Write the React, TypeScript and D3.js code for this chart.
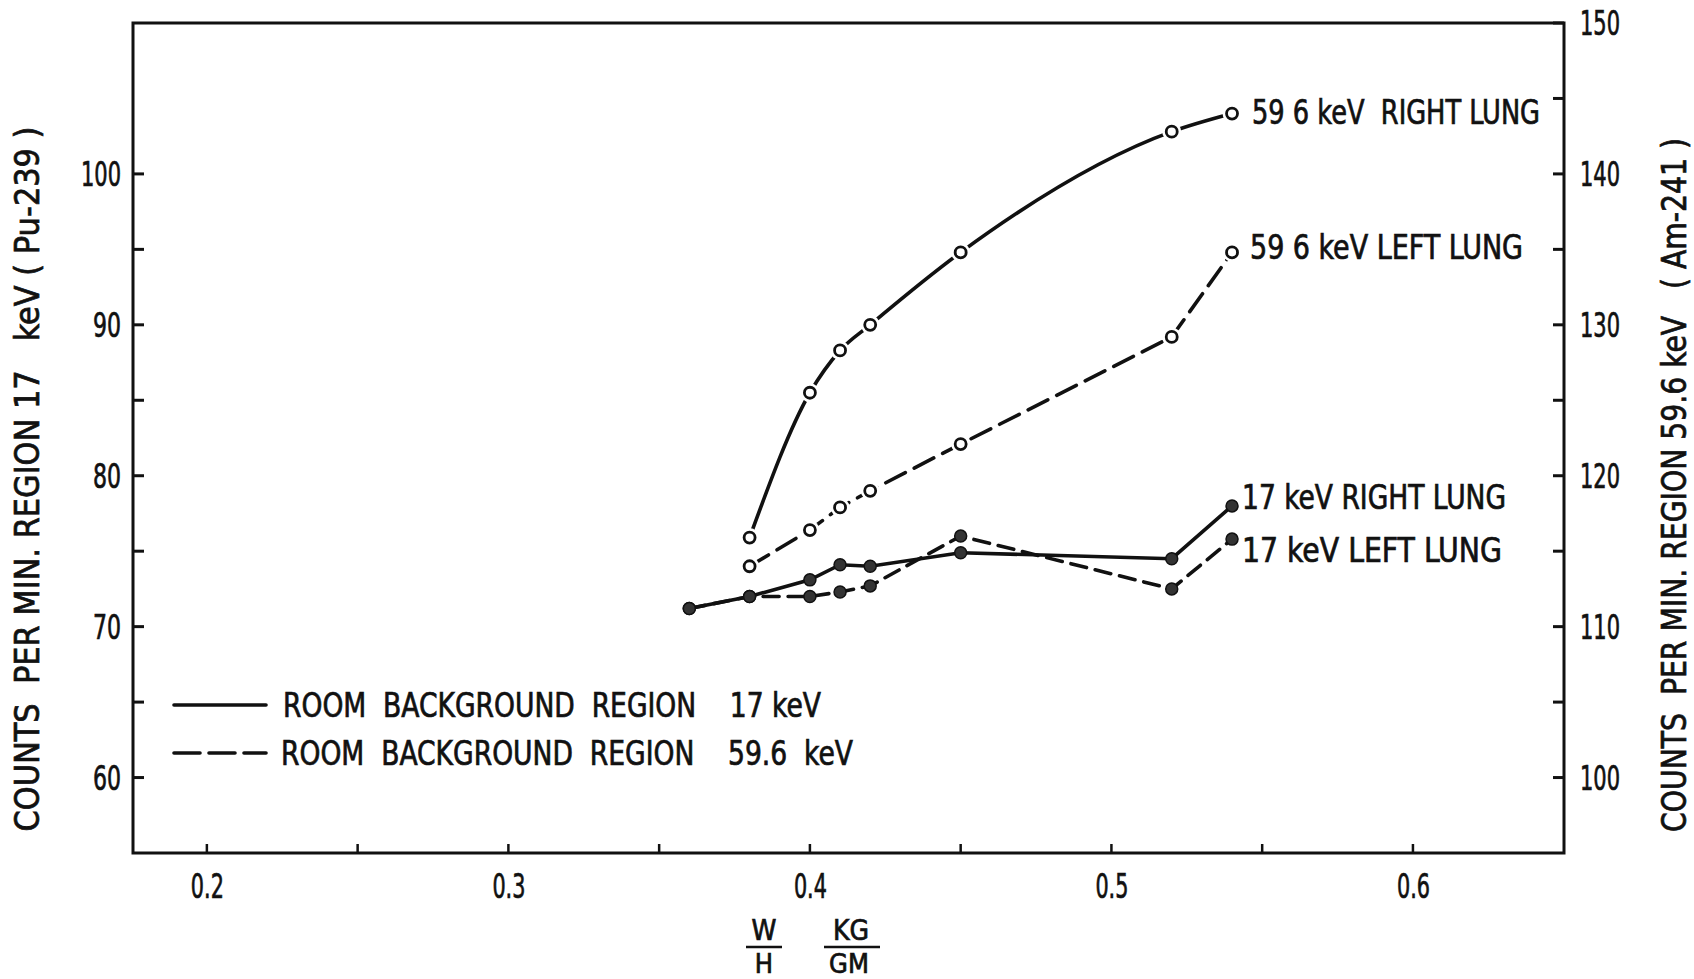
import React from 'react';
import * as d3 from 'd3';

// ---- data ----
const xRoomBg = [0.36, 0.38, 0.4, 0.41, 0.42, 0.45, 0.52, 0.54];
const x596 = [0.38, 0.4, 0.41, 0.42, 0.45, 0.52, 0.54];
const rightLung596 = [115.9, 125.5, 128.3, 130.0, 134.8, 142.8, 144.0];
const leftLung596 = [114.0, 116.4, 117.9, 119.0, 122.1, 129.2, 134.8];
const rightLung17 = [71.2, 72.0, 73.1, 74.1, 74.0, 74.9, 74.5, 78.0];
const leftLung17 = [71.2, 72.0, 72.0, 72.3, 72.7, 76.0, 72.5, 75.8];

const xTicks = [0.2, 0.3, 0.4, 0.5, 0.6];
const xMinorTicks = [0.25, 0.35, 0.45, 0.55];
const leftTicks = [60, 70, 80, 90, 100];
const leftMinorTicks = [65, 75, 85, 95];
const rightTicks = [100, 110, 120, 130, 140, 150];
const rightMinorTicks = [105, 115, 125, 135, 145];

const seriesLabels = ['59 6 keV  RIGHT LUNG', '59 6 keV LEFT LUNG', '17 keV RIGHT LUNG', '17 keV LEFT LUNG'];
const legendLabels = ['ROOM  BACKGROUND  REGION    17 keV', 'ROOM  BACKGROUND  REGION    59.6  keV'];

const FONT = "'DejaVu Sans Condensed', 'Liberation Sans Narrow', 'DejaVu Sans', sans-serif";

export default function App() {
  const L = 133, R = 1564, T = 23, B = 853;
  const x = d3.scaleLinear().domain([0.1755, 0.6501]).range([L, R]);
  const yL = d3.scaleLinear().domain([55, 110]).range([B, T]);
  const yR = d3.scaleLinear().domain([95, 150]).range([B, T]);

  const smooth = d3.line<[number, number]>().x(d => x(d[0])).y(d => yR(d[1])).curve(d3.curveMonotoneX);
  const straightR = d3.line<[number, number]>().x(d => x(d[0])).y(d => yR(d[1]));
  const straight = d3.line<[number, number]>().x(d => x(d[0])).y(d => yL(d[1]));

  const rl596: [number, number][] = x596.map((v, i) => [v, rightLung596[i]]);
  const ll596: [number, number][] = x596.map((v, i) => [v, leftLung596[i]]);
  const rl17: [number, number][] = xRoomBg.map((v, i) => [v, rightLung17[i]]);
  const ll17: [number, number][] = xRoomBg.map((v, i) => [v, leftLung17[i]]);

  const txt = { fontFamily: FONT, fill: '#111', whiteSpace: 'pre' as const };
  const sw = { stroke: '#111', strokeWidth: 0.7 };
  const lw = 3.6;

  return (
    <svg width={1694} height={979} style={{ position: 'absolute', left: 0, top: 0, background: '#fff' }}>
      <rect x={0} y={0} width={1694} height={979} fill="#fff" />
      {/* frame */}
      <rect x={L} y={T} width={R - L} height={B - T} fill="none" stroke="#111" strokeWidth={3} />

      {/* left ticks */}
      {[...leftTicks, ...leftMinorTicks].map(v => (
        <line key={'lt' + v} x1={L} x2={L + 11} y1={yL(v)} y2={yL(v)} stroke="#111" strokeWidth={3} />
      ))}
      {leftTicks.map(v => (
        <text key={'ltl' + v} x={121} y={yL(v)} dy="0.36em" textAnchor="end" fontSize={34} style={txt} {...sw}
          textLength={String(v).length === 3 ? 40 : 28} lengthAdjust="spacingAndGlyphs">{v}</text>
      ))}
      {/* right ticks */}
      {[...rightTicks, ...rightMinorTicks].map(v => (
        <line key={'rt' + v} x1={R - 11} x2={R} y1={yR(v)} y2={yR(v)} stroke="#111" strokeWidth={3} />
      ))}
      {rightTicks.map(v => (
        <text key={'rtl' + v} x={1580} y={yR(v)} dy="0.36em" textAnchor="start" fontSize={34} style={txt} {...sw}
          textLength={40} lengthAdjust="spacingAndGlyphs">{v}</text>
      ))}
      {/* x ticks */}
      {[...xTicks, ...xMinorTicks].map(v => (
        <line key={'xt' + v} x1={x(v)} x2={x(v)} y1={B} y2={B - 9} stroke="#111" strokeWidth={2.5} />
      ))}
      {xTicks.map(v => (
        <text key={'xtl' + v} x={x(v) - 16} y={898} textAnchor="start" fontSize={34} style={txt} {...sw}
          textLength={33} lengthAdjust="spacingAndGlyphs">{v.toFixed(1)}</text>
      ))}

      {/* x axis label W/H KG/GM */}
      <text x={764} y={940} textAnchor="middle" fontSize={28} style={txt} {...sw}>W</text>
      <line x1={746} x2={782} y1={947} y2={947} stroke="#111" strokeWidth={2.5} />
      <text x={764} y={973} textAnchor="middle" fontSize={27} style={txt} {...sw}>H</text>
      <text x={851} y={940} textAnchor="middle" fontSize={28} style={txt} {...sw}>KG</text>
      <line x1={824} x2={880} y1={947} y2={947} stroke="#111" strokeWidth={2.5} />
      <text x={849} y={973} textAnchor="middle" fontSize={27} style={txt} {...sw}>GM</text>

      {/* y axis labels */}
      <text transform="translate(39,479) rotate(-90)" textAnchor="middle" fontSize={33} style={txt} {...sw}
        textLength={705} lengthAdjust="spacingAndGlyphs">COUNTS  PER MIN. REGION 17   keV ( Pu-239 )</text>
      <text transform="translate(1686,485) rotate(-90)" textAnchor="middle" fontSize={33} style={txt} {...sw}
        textLength={694} lengthAdjust="spacingAndGlyphs">COUNTS  PER MIN. REGION 59.6 keV   ( Am-241 )</text>

      {/* data lines */}
      <path d={smooth(rl596) || ''} fill="none" stroke="#111" strokeWidth={lw} strokeLinecap="round" />
      <path d={straightR(ll596) || ''} fill="none" stroke="#111" strokeWidth={lw} strokeLinecap="round" strokeDasharray="22 10" />
      <path d={straight(rl17) || ''} fill="none" stroke="#111" strokeWidth={lw} strokeLinecap="round" />
      <path d={straight(ll17) || ''} fill="none" stroke="#111" strokeWidth={lw} strokeLinecap="round" strokeDasharray="16 9" />

      {/* markers: open circles (59.6 keV) */}
      {[...rl596, ...ll596].map((d, i) => (
        <g key={'om' + i}>
          <circle cx={x(d[0])} cy={yR(d[1])} r={9.5} fill="#fff" />
          <circle cx={x(d[0])} cy={yR(d[1])} r={5.5} fill="#fff" stroke="#111" strokeWidth={2.8} />
        </g>
      ))}
      {/* filled circles (17 keV) */}
      {[...rl17, ...ll17].map((d, i) => (
        <circle key={'fm' + i} cx={x(d[0])} cy={yL(d[1])} r={6} fill="#333" stroke="#111" strokeWidth={1.5} />
      ))}

      {/* series labels */}
      <text x={1252} y={124} fontSize={33} style={txt} {...sw} textLength={288} lengthAdjust="spacingAndGlyphs">{seriesLabels[0]}</text>
      <text x={1250} y={259} fontSize={33} style={txt} {...sw} textLength={273} lengthAdjust="spacingAndGlyphs">{seriesLabels[1]}</text>
      <text x={1242} y={509} fontSize={33} style={txt} {...sw} textLength={264} lengthAdjust="spacingAndGlyphs">{seriesLabels[2]}</text>
      <text x={1242} y={562} fontSize={33} style={txt} {...sw} textLength={260} lengthAdjust="spacingAndGlyphs">{seriesLabels[3]}</text>

      {/* legend */}
      <line x1={174} x2={266} y1={705} y2={705} stroke="#111" strokeWidth={lw} strokeLinecap="round" />
      <text x={283} y={717} fontSize={33} style={txt} {...sw} textLength={538} lengthAdjust="spacingAndGlyphs">{legendLabels[0]}</text>
      <line x1={174} x2={266} y1={753} y2={753} stroke="#111" strokeWidth={lw} strokeLinecap="round" strokeDasharray="26 9" />
      <text x={281} y={765} fontSize={33} style={txt} {...sw} textLength={572} lengthAdjust="spacingAndGlyphs">{legendLabels[1]}</text>
    </svg>
  );
}
